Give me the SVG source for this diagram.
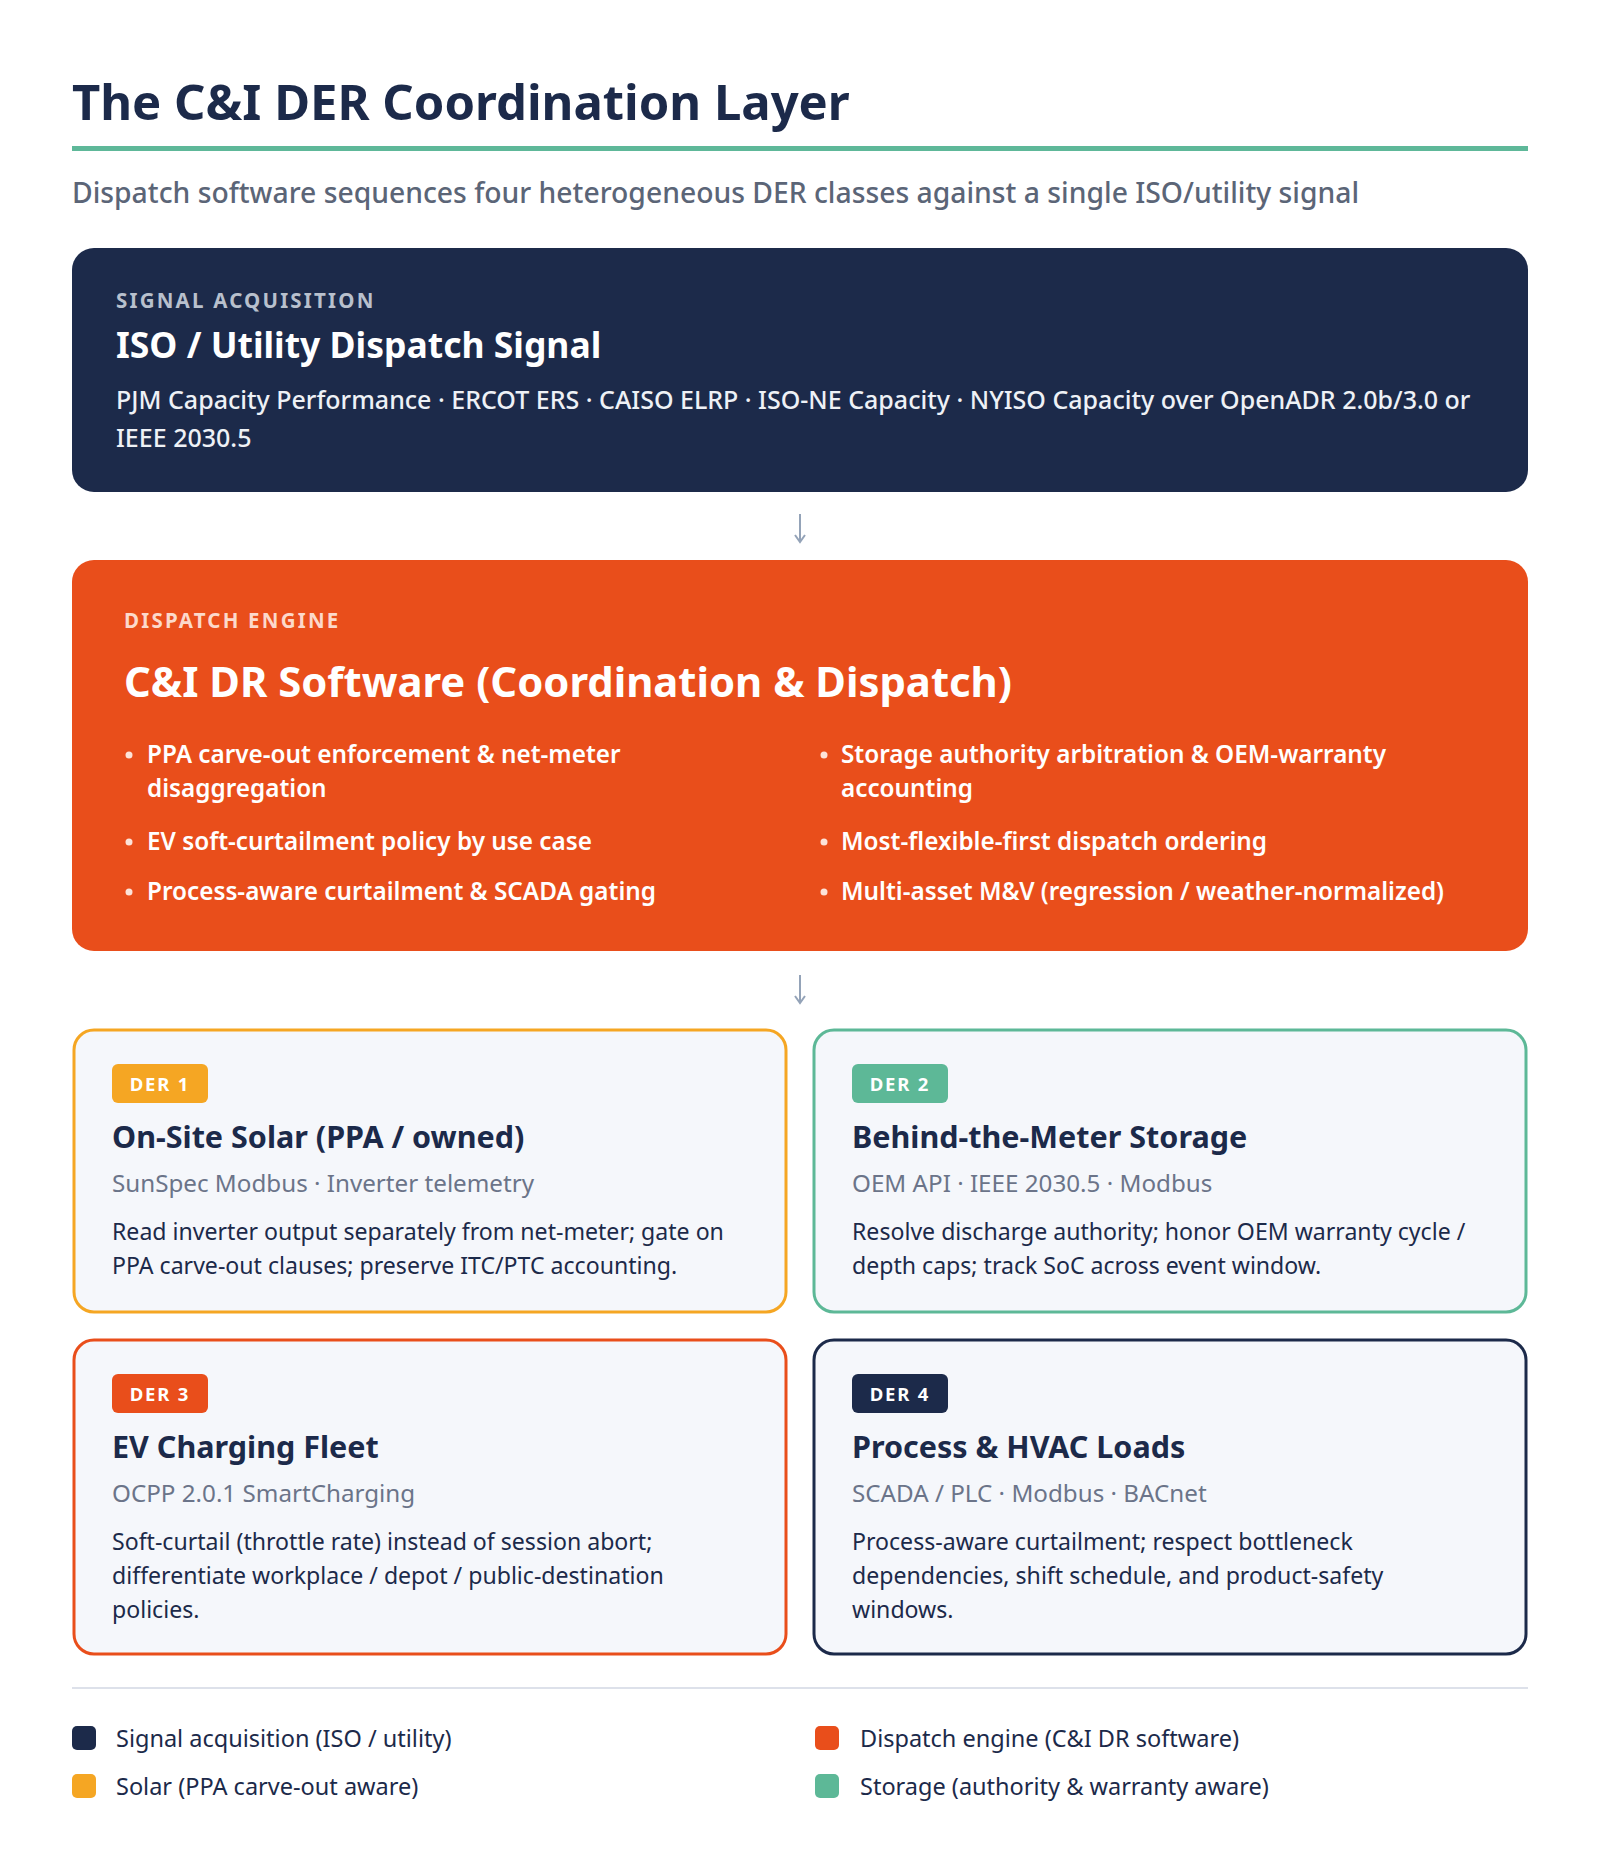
<svg xmlns="http://www.w3.org/2000/svg" width="1600" height="1876" viewBox="0 0 1600 1876">
<style>
text{font-family:"Noto Sans","Open Sans","Liberation Sans",sans-serif}
.h1{font-size:49px;font-weight:700;fill:#1c2a4a}
.sub{font-size:28.3px;fill:#5b6577;font-weight:500}
.lbl{font-size:20.5px;font-weight:700;letter-spacing:2.2px}
.bt{font-size:35.5px;font-weight:700;fill:#fff}
.desc{font-size:25px;font-weight:500;fill:#eef1f6}
.et{font-size:41.8px;font-weight:700;fill:#fff}
.bul{font-size:24.3px;font-weight:600;fill:#fff}
.card{fill:#f5f7fb;stroke-width:3}
.badge{font-size:18.5px;font-weight:700;fill:#fff;letter-spacing:1.8px}
.ct{font-size:30.5px;font-weight:700;fill:#1c2a4a}
.cs{font-size:24.2px;fill:#6b7489}
.cb{font-size:23.1px;fill:#1c2a4a}
.lg{font-size:23.5px;fill:#1c2a4a}
.arr{stroke:#94a3b8;stroke-width:2;fill:none}
</style>
<rect width="1600" height="1876" fill="#fff"/>
<g id="header">
<text class="h1" x="72" y="120">The C&amp;I DER Coordination Layer</text>
<rect x="72" y="146" width="1456" height="5" fill="#5eb899"/>
<text class="sub" x="72" y="203">Dispatch software sequences four heterogeneous DER classes against a single ISO/utility signal</text>
</g>
<g id="signal">
<rect x="72" y="248" width="1456" height="244" rx="22" fill="#1c2a4a"/>
<text class="lbl" x="116" y="308" fill="#b8c0cd">SIGNAL ACQUISITION</text>
<text class="bt" x="116" y="358">ISO / Utility Dispatch Signal</text>
<text class="desc" x="116" y="409">PJM Capacity Performance · ERCOT ERS · CAISO ELRP · ISO-NE Capacity · NYISO Capacity over OpenADR 2.0b/3.0 or</text>
<text class="desc" x="116" y="447">IEEE 2030.5</text>
</g>
<g id="connectors">
<path class="arr" d="M800 514V541M795 535L800 542L805 535"/>
<path class="arr" d="M800 975V1002M795 996L800 1003L805 996"/>
</g>
<g id="engine">
<rect x="72" y="560" width="1456" height="391" rx="22" fill="#e94e1b"/>
<text class="lbl" x="124" y="628" fill="#fcd9cb">DISPATCH ENGINE</text>
<text class="et" x="124" y="697">C&amp;I DR Software (Coordination &amp; Dispatch)</text>
<g class="bul">
<circle cx="129" cy="755" r="3.5" fill="#fde3d8"/>
<text class="bul" x="147" y="763">PPA carve-out enforcement &amp; net-meter</text>
<text class="bul" x="147" y="797">disaggregation</text>
<circle cx="129" cy="842" r="3.5" fill="#fde3d8"/>
<text class="bul" x="147" y="850">EV soft-curtailment policy by use case</text>
<circle cx="129" cy="892" r="3.5" fill="#fde3d8"/>
<text class="bul" x="147" y="900">Process-aware curtailment &amp; SCADA gating</text>
<circle cx="824" cy="755" r="3.5" fill="#fde3d8"/>
<text class="bul" x="841" y="763">Storage authority arbitration &amp; OEM-warranty</text>
<text class="bul" x="841" y="797">accounting</text>
<circle cx="824" cy="842" r="3.5" fill="#fde3d8"/>
<text class="bul" x="841" y="850">Most-flexible-first dispatch ordering</text>
<circle cx="824" cy="892" r="3.5" fill="#fde3d8"/>
<text class="bul" x="841" y="900">Multi-asset M&amp;V (regression / weather-normalized)</text>
</g>
</g>
<g id="der1">
<rect class="card" x="74" y="1030" width="712" height="282" rx="20" stroke="#f5a623"/>
<rect x="112" y="1064" width="96" height="39" rx="6" fill="#f5a623"/>
<text class="badge" x="160" y="1091" text-anchor="middle">DER 1</text>
<text class="ct" x="112" y="1148">On-Site Solar (PPA / owned)</text>
<text class="cs" x="112" y="1192">SunSpec Modbus · Inverter telemetry</text>
<text class="cb" x="112" y="1240">Read inverter output separately from net-meter; gate on</text>
<text class="cb" x="112" y="1274">PPA carve-out clauses; preserve ITC/PTC accounting.</text>
</g>
<g id="der2">
<rect class="card" x="814" y="1030" width="712" height="282" rx="20" stroke="#5db897"/>
<rect x="852" y="1064" width="96" height="39" rx="6" fill="#5db897"/>
<text class="badge" x="900" y="1091" text-anchor="middle">DER 2</text>
<text class="ct" x="852" y="1148">Behind-the-Meter Storage</text>
<text class="cs" x="852" y="1192">OEM API · IEEE 2030.5 · Modbus</text>
<text class="cb" x="852" y="1240">Resolve discharge authority; honor OEM warranty cycle /</text>
<text class="cb" x="852" y="1274">depth caps; track SoC across event window.</text>
</g>
<g id="der3">
<rect class="card" x="74" y="1340" width="712" height="314" rx="20" stroke="#e94e1b"/>
<rect x="112" y="1374" width="96" height="39" rx="6" fill="#e94e1b"/>
<text class="badge" x="160" y="1401" text-anchor="middle">DER 3</text>
<text class="ct" x="112" y="1458">EV Charging Fleet</text>
<text class="cs" x="112" y="1502">OCPP 2.0.1 SmartCharging</text>
<text class="cb" x="112" y="1550">Soft-curtail (throttle rate) instead of session abort;</text>
<text class="cb" x="112" y="1584">differentiate workplace / depot / public-destination</text>
<text class="cb" x="112" y="1618">policies.</text>
</g>
<g id="der4">
<rect class="card" x="814" y="1340" width="712" height="314" rx="20" stroke="#1c2a4a"/>
<rect x="852" y="1374" width="96" height="39" rx="6" fill="#1c2a4a"/>
<text class="badge" x="900" y="1401" text-anchor="middle">DER 4</text>
<text class="ct" x="852" y="1458">Process &amp; HVAC Loads</text>
<text class="cs" x="852" y="1502">SCADA / PLC · Modbus · BACnet</text>
<text class="cb" x="852" y="1550">Process-aware curtailment; respect bottleneck</text>
<text class="cb" x="852" y="1584">dependencies, shift schedule, and product-safety</text>
<text class="cb" x="852" y="1618">windows.</text>
</g>
<g id="legend">
<rect x="72" y="1687" width="1456" height="2" fill="#dde1ea"/>
<rect x="72" y="1726" width="24" height="24" rx="5" fill="#1c2a4a"/>
<text class="lg" x="116" y="1747">Signal acquisition (ISO / utility)</text>
<rect x="815" y="1726" width="24" height="24" rx="5" fill="#e94e1b"/>
<text class="lg" x="860" y="1747">Dispatch engine (C&amp;I DR software)</text>
<rect x="72" y="1774" width="24" height="24" rx="5" fill="#f5a623"/>
<text class="lg" x="116" y="1795">Solar (PPA carve-out aware)</text>
<rect x="815" y="1774" width="24" height="24" rx="5" fill="#5db897"/>
<text class="lg" x="860" y="1795">Storage (authority &amp; warranty aware)</text>
</g>
</svg>
